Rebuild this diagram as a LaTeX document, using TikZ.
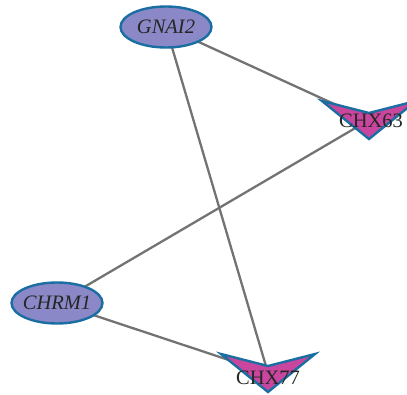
\documentclass[tikz,border=0pt]{standalone}
\usepackage{fontspec}
\setmainfont{Liberation Serif}
\usetikzlibrary{shapes.geometric}
\definecolor{ellfill}{HTML}{8A88C6}
\definecolor{nodeborder}{HTML}{1A6EA2}
\definecolor{vfill}{HTML}{C8469E}
\definecolor{edgegray}{HTML}{737373}
\tikzset{
  gene/.style={ellipse, draw=nodeborder, fill=ellfill, line width=2.4pt,
    minimum width=91pt, minimum height=41pt, inner ysep=0pt, inner xsep=-14pt,
    font=\fontsize{20.5}{24}\selectfont\itshape, text=black!85},
  vlabel/.style={inner sep=0pt, font=\fontsize{20.5}{24}\selectfont, text=black!85},
  vshape/.style={draw=nodeborder, fill=vfill, line width=2.4pt, line join=miter},
  link/.style={draw=edgegray, line width=2.3pt}
}
\newcommand{\vnode}[1]{%
  \path[vshape] ([shift={(-47,-19)}]#1) -- ([shift={(0,-7)}]#1) -- ([shift={(47,-19)}]#1) -- ([shift={(0,19)}]#1) -- cycle;}
\begin{document}
\begin{tikzpicture}[x=1pt,y=-1pt]
\useasboundingbox (0,0) rectangle (407,395);
\coordinate (g) at (166,27);
\coordinate (r) at (57,303);
\coordinate (c63) at (369,120);
\coordinate (c77) at (268,373);
\draw[link] (g) -- (c63);
\draw[link] (g) -- (c77);
\draw[link] (r) -- (c63);
\draw[link] (r) -- (c77);
\vnode{c63}
\vnode{c77}
\node[gene] (GNAI2) at (g) {GNAI2};
\node[gene] (CHRM1) at (r) {CHRM1};
\node[vlabel] (L63) at (371,121) {CHX63};
\node[vlabel] (L77) at (268,378) {CHX77};
\end{tikzpicture}
\end{document}
